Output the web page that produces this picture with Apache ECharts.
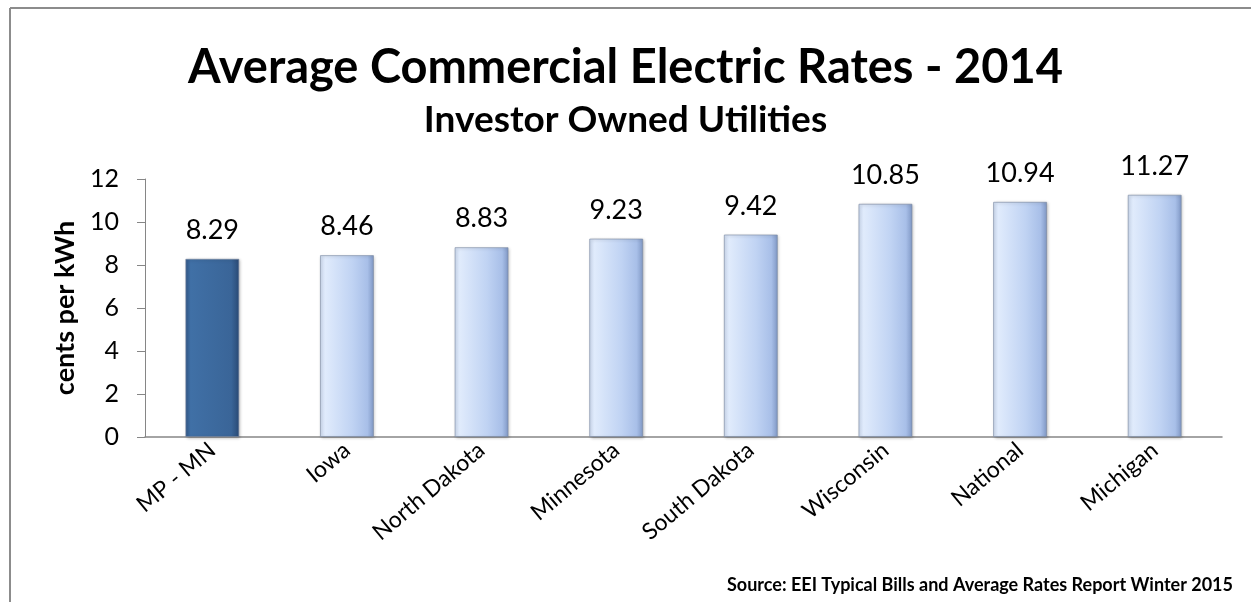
<!DOCTYPE html>
<html>
<head>
<meta charset="utf-8">
<title>Average Commercial Electric Rates - 2014</title>
<script src="https://cdn.jsdelivr.net/npm/echarts@6/dist/echarts.min.js"></script>
<style>
  html, body { margin: 0; padding: 0; background: #fff; }
  #chart { width: 1251px; height: 602px; }
</style>
</head>
<body>
<div id="chart"></div>
<script>
// data
const categories = ['MP - MN', 'Iowa', 'North Dakota', 'Minnesota', 'South Dakota', 'Wisconsin', 'National', 'Michigan']
const rates = [8.29, 8.46, 8.83, 9.23, 9.42, 10.85, 10.94, 11.27]
const highlightIndex = 0 // MP - MN drawn in dark blue

const fontFamily = 'Lato, "Open Sans", sans-serif'

const lightBar = {
    type: 'linear', x: 0, y: 0, x2: 1, y2: 0,
    colorStops: [
        { offset: 0, color: '#cfdcf1' },
        { offset: 0.1, color: '#e0ebfc' },
        { offset: 0.6, color: '#c0d3f3' },
        { offset: 0.88, color: '#a8bfe8' },
        { offset: 1, color: '#7f97c4' }
    ]
}
const darkBar = {
    type: 'linear', x: 0, y: 0, x2: 1, y2: 0,
    colorStops: [
        { offset: 0, color: '#34598a' },
        { offset: 0.1, color: '#4070a6' },
        { offset: 0.85, color: '#3a6598' },
        { offset: 1, color: '#2a4a75' }
    ]
}

const chart = echarts.init(document.getElementById('chart'))

const option = {
    backgroundColor: '#fff',
    animation: false,
    textStyle: { fontFamily: fontFamily },
    title: [
        {
            text: 'Average Commercial Electric Rates - 2014',
            left: 'center',
            top: 39,
            textStyle: { fontSize: 47, fontWeight: 'bold', color: '#000', fontFamily: fontFamily }
        },
        {
            text: 'Investor Owned Utilities',
            left: 'center',
            top: 97,
            textStyle: { fontSize: 37, fontWeight: 'bold', color: '#000', fontFamily: fontFamily }
        },
        {
            text: 'Source: EEI Typical Bills and Average Rates Report Winter 2015',
            right: 13,
            top: 571,
            textStyle: { fontSize: 18, fontWeight: 'bold', color: '#000', fontFamily: fontFamily }
        }
    ],
    grid: {
        left: 145,
        right: 29,
        top: 179,
        bottom: 165
    },
    xAxis: {
        type: 'category',
        data: categories,
        axisLine: { lineStyle: { color: '#868686', width: 1.5 } },
        axisTick: { show: false },
        axisLabel: {
            rotate: 40,
            margin: 10,
            fontSize: 23,
            color: '#000',
            fontFamily: fontFamily
        }
    },
    yAxis: {
        type: 'value',
        min: 0,
        max: 12,
        interval: 2,
        name: 'cents per kWh',
        nameLocation: 'middle',
        nameGap: 64,
        nameTextStyle: { fontSize: 27, fontWeight: 'bold', color: '#000', fontFamily: fontFamily },
        axisLine: { show: true, lineStyle: { color: '#868686', width: 1 } },
        axisTick: { show: true, length: 8, lineStyle: { color: '#868686' } },
        splitLine: { show: false },
        axisLabel: { fontSize: 25, color: '#000', margin: 26, fontFamily: fontFamily }
    },
    series: [
        {
            type: 'bar',
            data: rates.map((v, i) => ({
                value: v,
                itemStyle: { color: i === highlightIndex ? darkBar : lightBar }
            })),
            barWidth: 54,
            itemStyle: {
                borderColor: 'rgba(120,135,160,0.6)',
                borderWidth: 1,
                shadowColor: 'rgba(0,0,0,0.25)',
                shadowBlur: 3,
                shadowOffsetX: 1,
                shadowOffsetY: 1
            },
            label: {
                show: true,
                position: 'top',
                distance: 15,
                fontSize: 27,
                color: '#000',
                fontFamily: fontFamily,
                formatter: p => p.value.toFixed(2)
            }
        }
    ],
    graphic: [
        // outer frame (top and left edges visible in the reference)
        { type: 'line', shape: { x1: 10, y1: 8, x2: 1251, y2: 8 }, style: { stroke: '#8c8c8c', lineWidth: 2 } },
        { type: 'line', shape: { x1: 10, y1: 8, x2: 10, y2: 602 }, style: { stroke: '#8c8c8c', lineWidth: 2 } }
    ]
}

chart.setOption(option)

window.addEventListener('resize', () => {
    chart.resize()
})
</script>
</body>
</html>
